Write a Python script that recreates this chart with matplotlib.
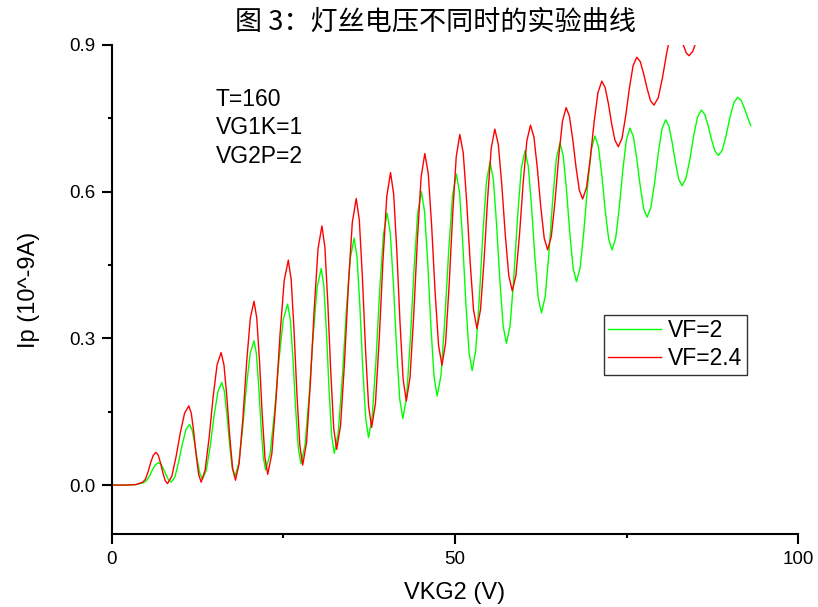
import matplotlib
matplotlib.use('Agg')
import matplotlib.pyplot as plt
from matplotlib.ticker import MultipleLocator

plt.rcParams['font.family'] = ['Liberation Sans', 'Noto Sans CJK SC', 'DejaVu Sans']

# ---------------- data ----------------
# VF = 2 (green)
vf2_x = [0, 2, 3.5, 4.6, 5.04, 5.48, 5.92, 6.36, 6.8,
         7.17, 7.54, 7.91, 8.28, 8.65,
         9.18, 9.71, 10.24, 10.77, 11.3,
         11.68, 12.06, 12.44, 12.82, 13.2,
         13.76, 14.32, 14.88, 15.44, 16.0,
         16.38, 16.76, 17.14, 17.52, 17.9,
         18.46, 19.02, 19.58, 20.14, 20.7,
         21.04, 21.38, 21.72, 22.06, 22.4,
         23.04, 23.68, 24.32, 24.96, 25.6,
         25.99, 26.38, 26.77, 27.16, 27.55,
         28.14, 28.73, 29.32, 29.91, 30.5,
         30.88, 31.26, 31.64, 32.02, 32.4,
         32.98, 33.56, 34.14, 34.72, 35.3,
         35.72, 36.14, 36.56, 36.98, 37.4,
         37.94, 38.48, 39.02, 39.56, 40.1,
         40.56, 41.02, 41.48, 41.94, 42.4,
         42.94, 43.48, 44.02, 44.56, 45.1,
         45.56, 46.02, 46.48, 46.94, 47.4,
         47.96, 48.52, 49.08, 49.64, 50.2,
         50.66, 51.12, 51.58, 52.04, 52.5,
         53.02, 53.54, 54.06, 54.58, 55.1,
         55.58, 56.06, 56.54, 57.02, 57.5,
         58.04, 58.58, 59.12, 59.66, 60.2,
         60.68, 61.16, 61.64, 62.12, 62.6,
         63.14, 63.68, 64.22, 64.76, 65.3,
         65.78, 66.26, 66.74, 67.22, 67.7,
         68.24, 68.78, 69.32, 69.86, 70.4,
         70.9, 71.4, 71.9, 72.4, 72.9,
         73.42, 73.94, 74.46, 74.98, 75.5,
         76.0, 76.5, 77.0, 77.5, 78.0,
         78.54, 79.08, 79.62, 80.16, 80.7,
         81.18, 81.66, 82.14, 82.62, 83.1,
         83.66, 84.22, 84.78, 85.34, 85.9,
         86.4, 86.9, 87.4, 87.9, 88.4,
         88.96, 89.52, 90.08, 90.64, 91.2,
         91.7, 92.2, 92.65, 93.1]
vf2_y = [0, 0, 0.001, 0.005, 0.009, 0.019, 0.032, 0.042, 0.046,
         0.042, 0.032, 0.020, 0.010, 0.006,
         0.017, 0.047, 0.083, 0.113, 0.124,
         0.113, 0.085, 0.051, 0.023, 0.012,
         0.031, 0.080, 0.142, 0.191, 0.210,
         0.192, 0.143, 0.084, 0.035, 0.017,
         0.043, 0.113, 0.199, 0.269, 0.295,
         0.270, 0.204, 0.122, 0.056, 0.031,
         0.063, 0.148, 0.253, 0.338, 0.370,
         0.339, 0.258, 0.156, 0.075, 0.044,
         0.082, 0.182, 0.305, 0.405, 0.443,
         0.407, 0.313, 0.195, 0.101, 0.065,
         0.107, 0.217, 0.353, 0.463, 0.505,
         0.466, 0.364, 0.238, 0.136, 0.097,
         0.141, 0.255, 0.398, 0.512, 0.556,
         0.516, 0.411, 0.281, 0.176, 0.136,
         0.180, 0.296, 0.440, 0.556, 0.600,
         0.560, 0.456, 0.326, 0.222, 0.182,
         0.225, 0.339, 0.479, 0.593, 0.636,
         0.598, 0.497, 0.373, 0.272, 0.234,
         0.275, 0.381, 0.514, 0.620, 0.661,
         0.626, 0.533, 0.418, 0.325, 0.290,
         0.327, 0.426, 0.548, 0.647, 0.684,
         0.652, 0.569, 0.467, 0.384, 0.352,
         0.385, 0.472, 0.580, 0.667, 0.700,
         0.673, 0.602, 0.514, 0.443, 0.416,
         0.444, 0.519, 0.611, 0.686, 0.714,
         0.692, 0.634, 0.561, 0.503, 0.481,
         0.505, 0.567, 0.644, 0.706, 0.730,
         0.713, 0.667, 0.611, 0.565, 0.548,
         0.567, 0.617, 0.678, 0.728, 0.747,
         0.734, 0.700, 0.659, 0.625, 0.612,
         0.627, 0.665, 0.714, 0.752, 0.767,
         0.758, 0.735, 0.706, 0.683, 0.674,
         0.685, 0.715, 0.752, 0.782, 0.793,
         0.787, 0.770, 0.752, 0.735]

# VF = 2.4 (red) - runs off the top of the axes after ~81 V
vf24_x = [0, 2, 3.5, 4.5, 4.88, 5.26, 5.64, 6.02, 6.4,
          6.74, 7.08, 7.42, 7.76, 8.1,
          8.72, 9.34, 9.96, 10.58, 11.2,
          11.56, 11.92, 12.28, 12.64, 13.0,
          13.58, 14.16, 14.74, 15.32, 15.9,
          16.32, 16.74, 17.16, 17.58, 18.0,
          18.54, 19.08, 19.62, 20.16, 20.7,
          21.1, 21.5, 21.9, 22.3, 22.7,
          23.3, 23.9, 24.5, 25.1, 25.7,
          26.12, 26.54, 26.96, 27.38, 27.8,
          28.36, 28.92, 29.48, 30.04, 30.6,
          31.03, 31.46, 31.89, 32.32, 32.75,
          33.32, 33.89, 34.46, 35.03, 35.6,
          36.05, 36.5, 36.95, 37.4, 37.85,
          38.4, 38.95, 39.5, 40.05, 40.6,
          41.06, 41.52, 41.98, 42.44, 42.9,
          43.44, 43.98, 44.52, 45.06, 45.6,
          46.1, 46.6, 47.1, 47.6, 48.1,
          48.62, 49.14, 49.66, 50.18, 50.7,
          51.2, 51.7, 52.2, 52.7, 53.2,
          53.72, 54.24, 54.76, 55.28, 55.8,
          56.31, 56.82, 57.33, 57.84, 58.35,
          58.88, 59.41, 59.94, 60.47, 61.0,
          61.5, 62.0, 62.5, 63.0, 63.5,
          64.04, 64.58, 65.12, 65.66, 66.2,
          66.68, 67.16, 67.64, 68.12, 68.6,
          69.16, 69.72, 70.28, 70.84, 71.4,
          71.88, 72.36, 72.84, 73.32, 73.8,
          74.34, 74.88, 75.42, 75.96, 76.5,
          77.0, 77.5, 78.0, 78.5, 79.0,
          79.62, 80.24, 80.86, 81.48, 82.1,
          82.5, 82.9, 83.3, 83.7, 84.1,
          84.66, 85.22, 85.78, 86.34, 86.9]
vf24_y = [0, 0, 0.001, 0.006, 0.012, 0.027, 0.046, 0.061, 0.067,
          0.061, 0.045, 0.025, 0.009, 0.003,
          0.018, 0.058, 0.107, 0.147, 0.162,
          0.147, 0.108, 0.060, 0.021, 0.006,
          0.031, 0.097, 0.180, 0.246, 0.271,
          0.246, 0.181, 0.100, 0.035, 0.010,
          0.045, 0.136, 0.250, 0.341, 0.376,
          0.342, 0.254, 0.144, 0.056, 0.022,
          0.064, 0.173, 0.309, 0.418, 0.460,
          0.420, 0.315, 0.185, 0.081, 0.041,
          0.087, 0.210, 0.361, 0.484, 0.530,
          0.487, 0.372, 0.231, 0.116, 0.073,
          0.122, 0.250, 0.409, 0.537, 0.586,
          0.542, 0.425, 0.279, 0.162, 0.118,
          0.167, 0.298, 0.459, 0.590, 0.639,
          0.595, 0.478, 0.333, 0.216, 0.172,
          0.220, 0.347, 0.503, 0.630, 0.678,
          0.637, 0.529, 0.394, 0.286, 0.245,
          0.290, 0.408, 0.554, 0.672, 0.717,
          0.679, 0.580, 0.457, 0.358, 0.320,
          0.359, 0.461, 0.587, 0.689, 0.728,
          0.697, 0.614, 0.511, 0.428, 0.397,
          0.429, 0.514, 0.619, 0.704, 0.736,
          0.712, 0.648, 0.569, 0.505, 0.481,
          0.509, 0.581, 0.672, 0.744, 0.772,
          0.754, 0.707, 0.650, 0.603, 0.585,
          0.608, 0.668, 0.743, 0.803, 0.826,
          0.813, 0.780, 0.738, 0.705, 0.692,
          0.709, 0.755, 0.812, 0.858, 0.875,
          0.866, 0.841, 0.811, 0.786, 0.777,
          0.792, 0.833, 0.884, 0.925, 0.940,
          0.934, 0.919, 0.899, 0.884, 0.878,
          0.887, 0.910, 0.938, 0.961, 0.970]

series_labels = ['VF=2', 'VF=2.4']
notes = ['T=160', 'VG1K=1', 'VG2P=2']
yticks = [0.0, 0.3, 0.6, 0.9]

# ---------------- plot ----------------
fig = plt.figure(figsize=(8.18, 6.07), dpi=100)
ax = fig.add_axes([0.1369, 0.1203, 0.8387, 0.8056])

ax.plot(vf2_x, vf2_y, color='#00ff00', lw=1.0, label=series_labels[0])
ax.plot(vf24_x, vf24_y, color='#ff0000', lw=1.0, label=series_labels[1])

ax.set_xlim(0, 100)
ax.set_ylim(-0.1, 0.9)
ax.xaxis.set_major_locator(MultipleLocator(50))
ax.xaxis.set_minor_locator(MultipleLocator(25))
ax.yaxis.set_minor_locator(MultipleLocator(0.15))
ax.set_yticks(yticks)
ax.set_yticklabels([f'{v:.1f}' for v in yticks])

for side in ['top', 'right']:
    ax.spines[side].set_visible(False)
for side in ['left', 'bottom']:
    ax.spines[side].set_linewidth(1.5)

ax.tick_params(which='major', direction='out', length=7, width=1.5, labelsize=13.5, pad=5)
ax.tick_params(which='minor', direction='out', length=3, width=1.5)

ax.set_xlabel('VKG2 (V)', fontsize=17, labelpad=10)
ax.set_ylabel('Ip (10^-9A)', fontsize=17, labelpad=21)

ax.text(0.151, 0.912, '\n'.join(notes), transform=ax.transAxes, fontsize=16.5,
        va='top', ha='left', linespacing=1.3)

leg = ax.legend(loc='upper left', bbox_to_anchor=(0.717, 0.448), fontsize=16.5,
                frameon=True, fancybox=False, borderpad=0.2, handlelength=2.3,
                handletextpad=0.3, labelspacing=0.2, borderaxespad=0)
leg.get_frame().set_edgecolor('black')
leg.get_frame().set_linewidth(1.0)

fig.text(0.533, 0.963, '图 3：灯丝电压不同时的实验曲线', ha='center', va='center',
         fontsize=19.5, family=['Noto Sans CJK SC', 'DejaVu Sans'])

fig.savefig('out.png', dpi=100)
